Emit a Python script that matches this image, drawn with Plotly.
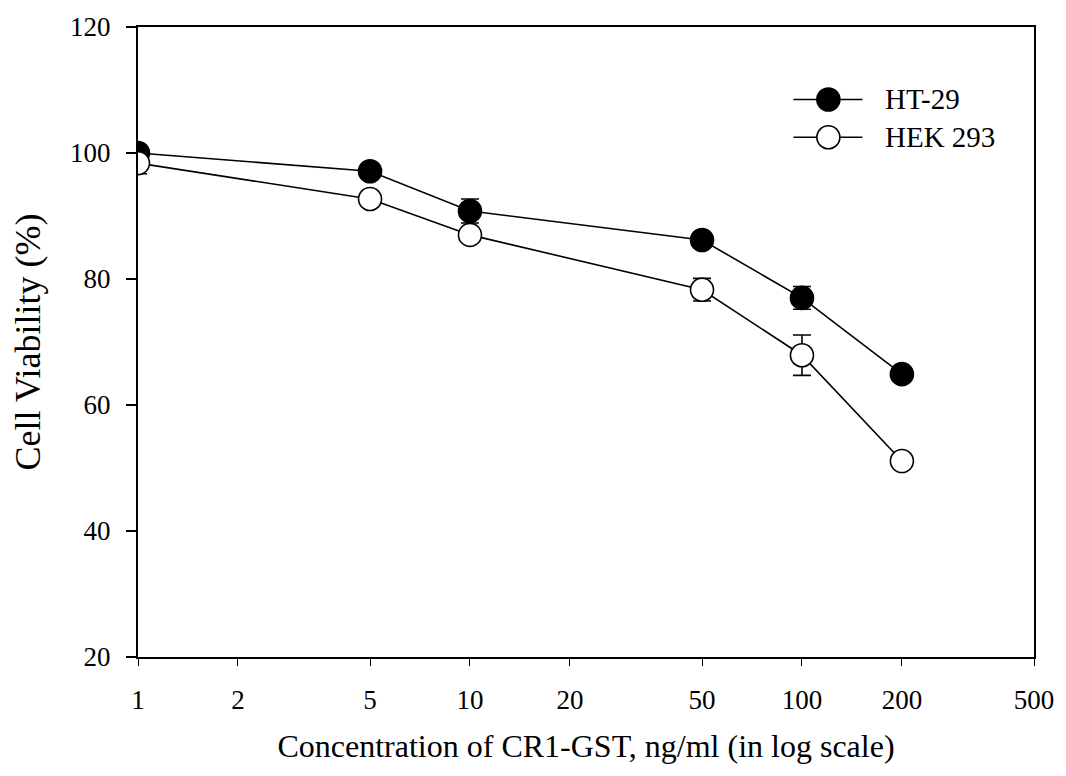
import plotly.graph_objects as go

# Concentration of CR1-GST (ng/ml)
conc = [1, 5, 10, 50, 100, 200]

# Cell viability (%) and standard error for each cell line
ht29_viability = [100.0, 97.1, 90.8, 86.2, 77.0, 64.9]
ht29_err = [0.6, 0.8, 1.9, 0.7, 1.8, 0.8]
hek293_viability = [98.4, 92.7, 87.0, 78.3, 67.9, 51.1]
hek293_err = [1.7, 1.0, 0.7, 1.8, 3.2, 0.6]

series_names = ["HT-29", "HEK 293"]
series_fill = ["black", "white"]

x_tick_vals = [1, 2, 5, 10, 20, 50, 100, 200, 500]
x_tick_text = ["1", "2", "5", "10", "20", "50", "100", "200", "500"]
y_tick_vals = [20, 40, 60, 80, 100, 120]

FONT = "Liberation Serif, Times New Roman, serif"
MARKER_SIZE = 23

fig = go.Figure()

for name, fill, yv, err in zip(series_names, series_fill,
                               [ht29_viability, hek293_viability],
                               [ht29_err, hek293_err]):
    fig.add_trace(go.Scatter(
        x=conc, y=yv, name=name, mode="lines+markers", showlegend=False,
        line=dict(color="black", width=1.6),
        marker=dict(symbol="circle", size=MARKER_SIZE, color=fill,
                    line=dict(color="black", width=1.6)),
        error_y=dict(type="data", array=err, visible=True,
                     color="black", thickness=1.6, width=9),
    ))

# Legend key drawn as layout shapes so the symbols match the plotted markers
legend_rows_y = [0.885, 0.825]
key_x0, key_x1, key_xc, text_x = 0.7315, 0.8085, 0.7705, 0.8315
shapes = []
annotations = []
for name, fill, ly in zip(series_names, series_fill, legend_rows_y):
    shapes.append(dict(type="line", xref="paper", yref="paper",
                       x0=key_x0, x1=key_x1, y0=ly, y1=ly,
                       line=dict(color="black", width=1.6)))
    half = MARKER_SIZE / 2
    shapes.append(dict(type="circle", xref="paper", yref="paper",
                       xsizemode="pixel", ysizemode="pixel",
                       xanchor=key_xc, yanchor=ly,
                       x0=-half, x1=half, y0=-half, y1=half,
                       fillcolor=fill, line=dict(color="black", width=1.6)))
    annotations.append(dict(xref="paper", yref="paper", x=text_x, y=ly,
                            xanchor="left", yanchor="middle", showarrow=False,
                            text=name, font=dict(size=29, family=FONT)))

fig.update_layout(
    width=1066, height=776,
    margin=dict(l=138, r=26, t=27, b=119),
    paper_bgcolor="white", plot_bgcolor="white",
    font=dict(family=FONT, color="black", size=27),
    showlegend=False,
    shapes=shapes,
    annotations=annotations,
    xaxis=dict(
        type="log", range=[0, 2.69897],
        tickvals=x_tick_vals, ticktext=x_tick_text,
        tickfont=dict(size=27, family=FONT),
        ticks="outside", ticklen=7, tickwidth=1.2, tickcolor="black",
        ticklabelstandoff=11,
        showline=True, linecolor="black", linewidth=2, mirror=True,
        showgrid=False, zeroline=False,
        title=dict(text="Concentration of CR1-GST, ng/ml (in log scale)",
                   font=dict(size=32, family=FONT), standoff=20),
    ),
    yaxis=dict(
        range=[20, 120], tickvals=y_tick_vals,
        tickfont=dict(size=27, family=FONT),
        ticks="outside", ticklen=10, tickwidth=2, tickcolor="black",
        ticklabelstandoff=10,
        showline=True, linecolor="black", linewidth=2, mirror=True,
        showgrid=False, zeroline=False,
        title=dict(text="Cell Viability (%)",
                   font=dict(size=36, family=FONT), standoff=18),
    ),
)

fig.write_html("out.html")
